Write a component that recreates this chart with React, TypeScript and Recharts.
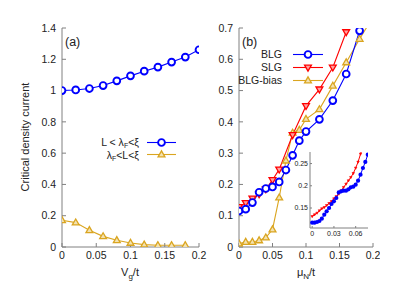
import React from "react";
import { LineChart, Line, XAxis, YAxis, CartesianGrid } from "recharts";

const FONT = '"Liberation Sans", Arial, sans-serif';
const AXIS = "#808080";
const TEXT = "#222";
const BLUE = "#0000ff";
const RED = "#ff0000";
const GOLD = "#daa520";

// panel (a): critical current vs V_g/t
const vgShort = [0, 0.02, 0.04, 0.06, 0.08, 0.1, 0.12, 0.14, 0.16, 0.18, 0.2];
const shortJunction = [1.0, 1.004, 1.013, 1.032, 1.062, 1.094, 1.124, 1.15, 1.182, 1.214, 1.261];
const vgLong = [0, 0.02, 0.04, 0.06, 0.08, 0.1, 0.12, 0.14, 0.16, 0.18];
const longJunction = [0.171, 0.156, 0.107, 0.068, 0.043, 0.026, 0.015, 0.011, 0.011, 0.011];
const xTicksA = [0, 0.05, 0.1, 0.15, 0.2];
const yTicksA = [0, 0.2, 0.4, 0.6, 0.8, 1, 1.2, 1.4];

// panel (b): critical current vs mu_N/t
const muBLG = [0, 0.01, 0.02, 0.03, 0.04, 0.05, 0.06, 0.07, 0.08, 0.09, 0.1, 0.12, 0.14, 0.16, 0.18, 0.2];
const blg = [0.115, 0.121, 0.142, 0.175, 0.187, 0.192, 0.208, 0.246, 0.293, 0.34, 0.369, 0.408, 0.468, 0.553, 0.691, 0.76];
const muSLG = [0, 0.01, 0.02, 0.03, 0.04, 0.05, 0.06, 0.08, 0.1, 0.12, 0.14, 0.16];
const slg = [0.128, 0.141, 0.155, 0.169, 0.185, 0.214, 0.248, 0.358, 0.451, 0.504, 0.574, 0.687];
const muBias = [0, 0.01, 0.02, 0.03, 0.04, 0.05, 0.06, 0.07, 0.08, 0.09, 0.1, 0.12, 0.14, 0.16, 0.18, 0.2];
const blgBias = [0.011, 0.016, 0.016, 0.021, 0.03, 0.056, 0.158, 0.276, 0.365, 0.374, 0.409, 0.44, 0.515, 0.59, 0.665, 0.735];
const xTicksB = [0, 0.05, 0.1, 0.15, 0.2];
const yTicksB = [0, 0.1, 0.2, 0.3, 0.4, 0.5, 0.6, 0.7];

// inset: low mu_N zoom
const muInset = [0, 0.0033, 0.0067, 0.01, 0.0133, 0.0167, 0.02, 0.0233, 0.0267, 0.03, 0.0333, 0.0367,
  0.04, 0.0433, 0.0467, 0.05, 0.0533, 0.0567, 0.06, 0.0633, 0.0667, 0.07, 0.0733, 0.0767];
const blgInset = [0.117, 0.117, 0.1185, 0.1207, 0.126, 0.135, 0.1425, 0.15, 0.159, 0.165, 0.1725, 0.185,
  0.1876, 0.189, 0.189, 0.192, 0.1966, 0.198, 0.2025, 0.2115, 0.225, 0.24, 0.2536, 0.27];
const slgInset = [0.131, 0.135, 0.1387, 0.144, 0.1485, 0.1515, 0.156, 0.1605, 0.165, 0.171, 0.176, 0.1815,
  0.189, 0.1966, 0.204, 0.2115, 0.219, 0.228, 0.24, 0.2536, 0.2715, 0.29];
const xTicksIn = [0, 0.03, 0.06];
const yTicksIn = [0.15, 0.2, 0.25];

const rows = (xs: number[], ys: number[]) => xs.slice(0, ys.length).map((x, i) => ({ x, y: ys[i] }));

const ring = (color: string, r: number) => (p: any) => (
  <circle key={p.index} cx={p.cx} cy={p.cy} r={r} fill="#fff" stroke={color} strokeWidth={1.9} />
);
const dotFill = (color: string, r: number) => (p: any) => (
  <circle key={p.index} cx={p.cx} cy={p.cy} r={r} fill={color} stroke="none" />
);
const triUp = (color: string, s: number, fill: string, sw = 1.3) => (p: any) => (
  <polygon
    key={p.index}
    points={`${p.cx},${p.cy - s} ${p.cx - s * 0.95},${p.cy + s * 0.65} ${p.cx + s * 0.95},${p.cy + s * 0.65}`}
    fill={fill}
    stroke={color}
    strokeWidth={sw}
  />
);
const triDown = (color: string, s: number, fill: string, sw = 1.3) => (p: any) => (
  <polygon
    key={p.index}
    points={`${p.cx},${p.cy + s} ${p.cx - s * 0.95},${p.cy - s * 0.65} ${p.cx + s * 0.95},${p.cy - s * 0.65}`}
    fill={fill}
    stroke={color}
    strokeWidth={sw}
  />
);

const tickStyle = { fill: TEXT, fontSize: 10.5 };

const App = () => {
  return (
    <div style={{ position: "absolute", left: 0, top: 0, width: 415, height: 305, fontFamily: FONT, background: "#fff" }}>
      {/* panel (a) */}
      <div style={{ position: "absolute", left: 0, top: 0 }}>
        <LineChart width={215} height={305} margin={{ top: 28, right: 16, bottom: 0, left: 0 }}>
          <XAxis type="number" dataKey="x" domain={[0, 0.2]} ticks={xTicksA} height={58} stroke={AXIS}
            tickSize={-4} tickMargin={9} tick={tickStyle} allowDataOverflow />
          <XAxis xAxisId="t" orientation="top" type="number" dataKey="x" domain={[0, 0.2]} ticks={xTicksA}
            height={0} stroke={AXIS} tickSize={-4} tick={false} allowDataOverflow />
          <YAxis type="number" domain={[0, 1.4]} ticks={yTicksA} width={62} stroke={AXIS}
            tickSize={-4} tickMargin={10} tick={tickStyle} allowDataOverflow />
          <YAxis yAxisId="r" orientation="right" type="number" domain={[0, 1.4]} ticks={yTicksA} width={0}
            stroke={AXIS} tickSize={-4} tick={false} allowDataOverflow />
          <Line data={rows(vgShort, shortJunction)} dataKey="y" stroke={BLUE} strokeWidth={1.1}
            dot={ring(BLUE, 3.4)} isAnimationActive={false} />
          <Line data={rows(vgLong, longJunction)} dataKey="y" stroke={GOLD} strokeWidth={1.1}
            dot={triUp(GOLD, 3.6, "#f3e2b0")} isAnimationActive={false} />
        </LineChart>
      </div>

      {/* panel (b) */}
      <div style={{ position: "absolute", left: 205, top: 0 }}>
        <LineChart width={175} height={305} margin={{ top: 28, right: 7, bottom: 0, left: 0 }}>
          <XAxis type="number" dataKey="x" domain={[0, 0.2]} ticks={xTicksB} height={58} stroke={AXIS}
            tickSize={-4} tickMargin={9} tick={tickStyle} allowDataOverflow />
          <XAxis xAxisId="t" orientation="top" type="number" dataKey="x" domain={[0, 0.2]} ticks={xTicksB}
            height={0} stroke={AXIS} tickSize={-4} tick={false} allowDataOverflow />
          <YAxis type="number" domain={[0, 0.7]} ticks={yTicksB} width={34} stroke={AXIS}
            tickSize={-4} tickMargin={10} tick={tickStyle} allowDataOverflow />
          <YAxis yAxisId="r" orientation="right" type="number" domain={[0, 0.7]} ticks={yTicksB} width={0}
            stroke={AXIS} tickSize={-4} tick={false} allowDataOverflow />
          <Line data={rows(muBias, blgBias)} dataKey="y" stroke={GOLD} strokeWidth={1.1}
            dot={triUp(GOLD, 3.6, "#f3e2b0")} isAnimationActive={false} />
          <Line data={rows(muSLG, slg)} dataKey="y" stroke={RED} strokeWidth={1.1}
            dot={triDown(RED, 3.6, "#ffa0a0")} isAnimationActive={false} />
          <Line data={rows(muBLG, blg)} dataKey="y" stroke={BLUE} strokeWidth={1.1}
            dot={ring(BLUE, 3.4)} isAnimationActive={false} />
        </LineChart>
      </div>

      {/* inset */}
      <div style={{ position: "absolute", left: 290, top: 145 }}>
        <LineChart width={85} height={100} margin={{ top: 7, right: 7, bottom: 0, left: 0 }}>
          <CartesianGrid horizontal={false} vertical={false} fill="#fff" />
          <XAxis type="number" dataKey="x" domain={[-0.003, 0.077]} ticks={xTicksIn} height={17} stroke={AXIS}
            tickSize={-2} tickMargin={5} tick={{ fill: TEXT, fontSize: 7 }} allowDataOverflow />
          <XAxis xAxisId="t" orientation="top" type="number" dataKey="x" domain={[-0.003, 0.077]} ticks={xTicksIn}
            height={0} stroke={AXIS} tickSize={-2} tick={false} allowDataOverflow />
          <YAxis type="number" domain={[0.105, 0.276]} ticks={yTicksIn} width={20} stroke={AXIS}
            tickSize={-2} tickMargin={4} tick={{ fill: TEXT, fontSize: 7 }} allowDataOverflow />
          <YAxis yAxisId="r" orientation="right" type="number" domain={[0.105, 0.276]} ticks={yTicksIn} width={0}
            stroke={AXIS} tickSize={-2} tick={false} allowDataOverflow />
          <Line data={rows(muInset, slgInset)} dataKey="y" stroke={RED} strokeWidth={1}
            dot={triDown(RED, 1.3, RED, 0.6)} isAnimationActive={false} />
          <Line data={rows(muInset, blgInset)} dataKey="y" stroke={BLUE} strokeWidth={1}
            dot={dotFill(BLUE, 2.1)} isAnimationActive={false} />
        </LineChart>
      </div>

      {/* titles, panel labels, legends */}
      <svg width={415} height={305} style={{ position: "absolute", left: 0, top: 0, pointerEvents: "none" }}
        fontFamily={FONT}>
        <text x={29} y={137} fontSize={11} fill={TEXT} textAnchor="middle" transform="rotate(-90, 29, 137)">
          Critical density current
        </text>
        <text x={130} y={276} fontSize={11} fill={TEXT} textAnchor="middle">
          V<tspan dy={3} fontSize={8}>g</tspan><tspan dy={-3}>/t</tspan>
        </text>
        <text x={306} y={276} fontSize={11} fill={TEXT} textAnchor="middle">
          μ<tspan dy={3} fontSize={8}>N</tspan><tspan dy={-3}>/t</tspan>
        </text>
        <text x={65} y={46} fontSize={12.5} fill={TEXT}>(a)</text>
        <text x={242} y={46} fontSize={12.5} fill={TEXT}>(b)</text>

        {/* legend (a) */}
        <text x={139} y={145.5} fontSize={10.5} fill={TEXT} textAnchor="end">
          L &lt; λ<tspan dy={2} fontSize={7}>F</tspan><tspan dy={-2}>&lt;ξ</tspan>
        </text>
        <line x1={147} x2={176} y1={142.5} y2={142.5} stroke={BLUE} strokeWidth={1.1} />
        {ring(BLUE, 3.4)({ cx: 161.5, cy: 142.5, index: "la1" })}
        <text x={139} y={158.5} fontSize={10.5} fill={TEXT} textAnchor="end">
          λ<tspan dy={2} fontSize={7}>F</tspan><tspan dy={-2}>&lt;L&lt;ξ</tspan>
        </text>
        <line x1={147} x2={176} y1={154.5} y2={154.5} stroke={GOLD} strokeWidth={1.1} />
        {triUp(GOLD, 3.6, "#f3e2b0")({ cx: 161.5, cy: 154.5, index: "la2" })}

        {/* legend (b) */}
        <text x={282} y={58} fontSize={10.5} fill={TEXT} textAnchor="end">BLG</text>
        <line x1={293} x2={323} y1={54.5} y2={54.5} stroke={BLUE} strokeWidth={1.1} />
        {ring(BLUE, 3.4)({ cx: 308, cy: 54.5, index: "lb1" })}
        <text x={282} y={71} fontSize={10.5} fill={TEXT} textAnchor="end">SLG</text>
        <line x1={293} x2={323} y1={67.5} y2={67.5} stroke={RED} strokeWidth={1.1} />
        {triDown(RED, 3.6, "#ffa0a0")({ cx: 308, cy: 67.5, index: "lb2" })}
        <text x={282} y={84} fontSize={10.5} fill={TEXT} textAnchor="end">BLG-bias</text>
        <line x1={293} x2={323} y1={80.5} y2={80.5} stroke={GOLD} strokeWidth={1.1} />
        {triUp(GOLD, 3.6, "#f3e2b0")({ cx: 308, cy: 80.5, index: "lb3" })}
      </svg>
    </div>
  );
};

export default App;
